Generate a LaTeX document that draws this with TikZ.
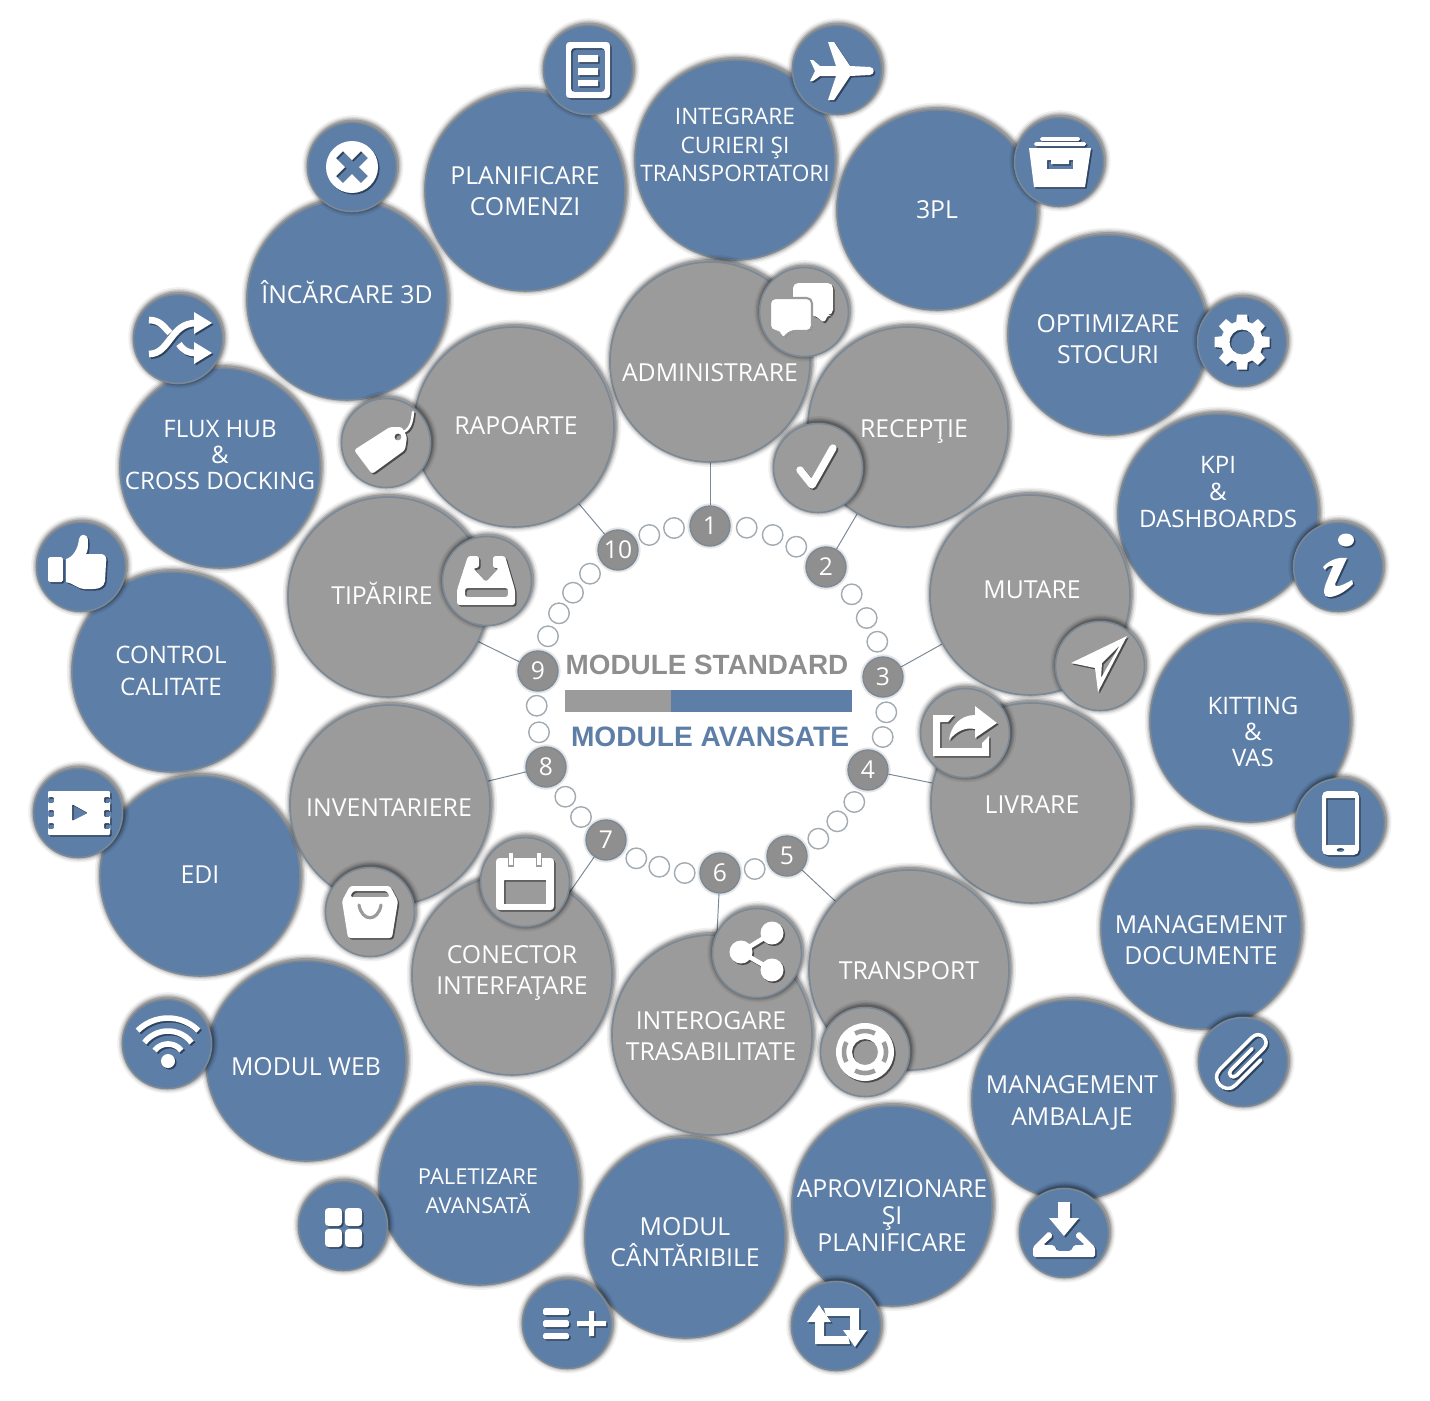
\documentclass[tikz,border=0pt]{standalone}
\usepackage{fontspec}
\setmainfont{Open Sans}
\newfontfamily\arialf{Liberation Sans}
\usetikzlibrary{backgrounds}
\definecolor{bluec}{HTML}{5D7EA7}
\definecolor{grayc}{HTML}{9B9B9B}
\definecolor{blues}{HTML}{2E435E}
\definecolor{grays}{HTML}{4A4A4A}
\definecolor{edgec}{HTML}{7B8896}
\definecolor{numc}{HTML}{8F8F8F}
\definecolor{ringc}{HTML}{A3ABB2}
\definecolor{titleg}{HTML}{8E8E8E}
\colorlet{ic}{white}
\colorlet{bgc}{bluec}
\tikzset{
  softshadow/.style={
    preaction={draw=black,draw opacity=.06,line width=7pt,fill=none,transform canvas={shift={(.5pt,.7pt)}}},
    preaction={draw=black,draw opacity=.09,line width=5pt,fill=none,transform canvas={shift={(.5pt,.7pt)}}},
    preaction={draw=black,draw opacity=.13,line width=3.5pt,fill=none,transform canvas={shift={(.5pt,.7pt)}}},
    preaction={draw=black,draw opacity=.18,line width=2pt,fill=none,transform canvas={shift={(.5pt,.7pt)}}},
  },
  bignode/.style={circle,draw=edgec,line width=.9pt,minimum size=4.0cm,inner sep=0pt,softshadow},
  iconnode/.style={circle,draw=edgec,line width=.9pt,minimum size=1.78cm,inner sep=0pt,softshadow},
  numnode/.style={circle,draw=edgec,line width=.8pt,fill=numc,minimum size=.8cm,inner sep=0pt,text=white,font=\fontsize{14}{16}\selectfont,
    preaction={draw=black,draw opacity=.10,line width=3pt,fill=none}},
  dotnode/.style={circle,draw=ringc,line width=.8pt,fill=white,minimum size=.41cm,inner sep=0pt},
  link/.style={draw=edgec,line width=.55pt},
  icstroke/.style={draw=ic,fill=none,line cap=round,line join=round},
}
\def\bsize{14.1}
% id, colour, x, y, text x, text y, leading, text
\newcommand\bigc[8]{%
  \node[bignode,fill=#2c] (#1) at (#3,#4) {};
  \node[text=white,align=center,inner sep=0pt,font=\fontsize{\bsize}{#7}\selectfont] (#1t) at (#5,#6) {#8};
}
% id, colour, x, y, paths
\newcommand\iconc[5]{%
  \node[iconnode,fill=#2c] (#1) at (#3,#4) {};
  \begin{scope}[shift={(#3+1.6,#4+1.6)}]\colorlet{ic}{#2s}\colorlet{bgc}{#2c}#5\end{scope}
  \begin{scope}[shift={(#3,#4)}]\colorlet{ic}{white}\colorlet{bgc}{#2c}#5\end{scope}
}
\begin{document}
\begin{tikzpicture}[x=0.02cm,y=-0.02cm]
\useasboundingbox (0,0) rectangle (1430,1400);
\begin{pgfonlayer}{background}
  \fill[white] (0,0) rectangle (1430,1400);
\end{pgfonlayer}

% big blue modules
\bigc{planif}{blue}{525}{191}{525}{191}{18}{PLANIFICARE\\COMENZI}
\def\bsize{12.9}
\bigc{integ}{blue}{735}{160}{735}{145}{16.4}{INTEGRARE\\CURIERI ŞI\\TRANSPORTATORI}
\def\bsize{14.1}
\bigc{tpl}{blue}{937}{210}{937}{210}{18}{3PL}
\bigc{optim}{blue}{1108}{335}{1108}{339}{18}{OPTIMIZARE\\STOCURI}
\def\bsize{13.7}
\bigc{kpi}{blue}{1218}{514}{1218}{492}{15.2}{KPI\\\&\\DASHBOARDS}
\bigc{kit}{blue}{1250}{722}{1253}{732}{15}{KITTING\\\&\\VAS}
\def\bsize{14.1}
\bigc{mdoc}{blue}{1201}{929}{1201}{940}{18}{MANAGEMENT\\DOCUMENTE}
\bigc{mamb}{blue}{1072}{1100}{1072}{1103}{18}{MANAGEMENT\\AMBALAJE}
\bigc{aprov}{blue}{892}{1206}{892}{1216}{15.3}{APROVIZIONARE\\ŞI\\PLANIFICARE}
\bigc{cant}{blue}{685}{1238}{685}{1242}{18}{MODUL\\CÂNTĂRIBILE}
\node[bignode,fill=bluec] (palet) at (479,1185) {};
\node[text=white,align=center,inner sep=0pt,font=\fontsize{12.5}{16.5}\selectfont] (palett) at (478,1191) {PALETIZARE\\AVANSATĂ};
\bigc{web}{blue}{306}{1061}{306}{1067}{18}{MODUL WEB}
\bigc{edi}{blue}{200}{876}{200}{875}{18}{EDI}
\def\bsize{13.7}
\bigc{ctrl}{blue}{172}{672}{171}{671}{18}{CONTROL\\CALITATE}
\bigc{flux}{blue}{220}{468}{220}{455}{15}{FLUX HUB\\\&\\CROSS DOCKING}
\def\bsize{14.1}
\bigc{incarc}{blue}{347}{300}{347}{292}{18}{ÎNCĂRCARE 3D}

% big gray modules
\bigc{adm}{gray}{710}{362}{710}{373}{18}{ADMINISTRARE}
\bigc{rec}{gray}{908}{427}{914}{431}{18}{RECEPŢIE}
\bigc{mut}{gray}{1030}{595}{1032}{590}{18}{MUTARE}
\bigc{liv}{gray}{1031}{803}{1032}{805}{18}{LIVRARE}
\bigc{trans}{gray}{909}{970}{909}{971}{18}{TRANSPORT}
\bigc{inter}{gray}{712}{1035}{711}{1036}{18}{INTEROGARE\\TRASABILITATE}
\bigc{conec}{gray}{512}{975}{512}{973}{18}{CONECTOR\\INTERFAŢARE}
\bigc{inv}{gray}{390}{805}{389}{808}{18}{INVENTARIERE}
\bigc{tip}{gray}{388}{597}{382}{593}{18}{TIPĂRIRE}
\bigc{rap}{gray}{514}{427}{516}{426}{18}{RAPOARTE}

% ring of small circles
\foreach \px/\py [count=\i] in {746.7/527.7,772.7/535,796.3/546.7,851.7/594.3,866.7/618,877.3/641.7,886.3/712.3,882.7/737,854.3/802,837.3/821.3,818.3/838.7,754.7/869,684.7/873,659.3/866.7,636.3/858.3,581/817,565.3/796.7,539/732.3,536.7/705.7,548/636.3,559/613.3,573/592.7,590/573.7,649.3/535,674/528}{
  \node[dotnode] (dot\i) at (\px,\py) {};
}
% numbered circles
\node[numnode] (n1) at (710,526) {1};
\node[numnode] (n2) at (826,567) {2};
\node[numnode] (n3) at (883,677) {3};
\node[numnode] (n4) at (868,770) {4};
\node[numnode] (n5) at (787,856) {5};
\node[numnode] (n6) at (720,873) {6};
\node[numnode] (n7) at (606,840) {7};
\node[numnode] (n8) at (546,767) {8};
\node[numnode] (n9) at (538,671) {9};
\node[numnode] (n10) at (618,550) {10};
\begin{pgfonlayer}{background}
  \draw[link] (n1) -- (adm);
  \draw[link] (n2) -- (rec);
  \draw[link] (n3) -- (mut);
  \draw[link] (n4) -- (liv);
  \draw[link] (n5) -- (trans);
  \draw[link] (n6) -- (inter);
  \draw[link] (n7) -- (conec);
  \draw[link] (n8) -- (inv);
  \draw[link] (n9) -- (tip);
  \draw[link] (n10) -- (rap);
\end{pgfonlayer}

% central legend
\node[text=titleg,inner sep=0pt,font=\arialf\bfseries\fontsize{15.85}{18}\selectfont] (stdt) at (707,665) {MODULE STANDARD};
\node[text=bluec,inner sep=0pt,font=\arialf\bfseries\fontsize{16}{18}\selectfont] (avt) at (710,737) {MODULE AVANSATE};
\node[fill=grayc,inner sep=0pt,minimum width=2.12cm,minimum height=.43cm,anchor=west] (barg) at (564.7,701) {};
\node[fill=bluec,inner sep=0pt,minimum width=3.624cm,minimum height=.43cm,anchor=west] (barb) at (670.7,701) {};

% icons on blue modules
\iconc{idoc}{blue}{588}{70}{
  \fill[ic,even odd rule,rounded corners=2pt] (-22,-28) rectangle (22,28) (-17,-22) rectangle (17,22);
  \fill[ic] (-10,-15) rectangle (10,-8) (-10,-2) rectangle (10,5) (-10,10) rectangle (10,16);
}
\iconc{iplane}{blue}{837}{70}{
  \fill[ic] (33,-3) -- (13,-4) -- (-3,-28) -- (-9,-28) -- (-1,-4) -- (-17,-4) -- (-24,-10) -- (-27,-10) -- (-22,1) -- (-27,11) -- (-24,11) -- (-17,6) -- (-1,6) -- (-9,30) -- (-3,30) -- (13,6) -- (33,5) .. controls (38,4) and (38,-2) .. (33,-3) -- cycle;
}
\iconc{ibox}{blue}{1059}{162}{
  \fill[ic,even odd rule] (-30,-14) -- (32,-14) -- (26,25) -- (-25,25) -- cycle
     (-12,-2) -- (-12,7) -- (14,7) -- (14,-2) -- (10,-2) -- (10,2) -- (-8,2) -- (-8,-2) -- cycle;
  \fill[ic,rounded corners=1pt] (-19,-25) rectangle (21,-21) (-25,-20) rectangle (27,-16);
}
\iconc{igear}{blue}{1242}{342}{
  \fill[ic,even odd rule] (0,0) circle[radius=21] (0,0) circle[radius=12.5];
  \foreach \a in {0,45,...,315}{\fill[ic,rotate=\a] (18,-6) -- (27.5,-5) -- (27.5,5) -- (18,6) -- cycle;}
}
\iconc{iinfo}{blue}{1338}{567}{
  \fill[ic] (8,-27) circle[x radius=8,y radius=6.5];
  \fill[ic] (-15,0) .. controls (-8,-8) and (2,-10) .. (9,-9) -- (-3,17) .. controls (-3,20) and (0,21) .. (14,13) -- (15,17) .. controls (6,26) and (-3,30) .. (-9,30) .. controls (-15,30) and (-15,24) .. (-12,16) -- (-5,-1) .. controls (-8,-2) and (-11,0) .. (-13,3) -- cycle;
}
\iconc{iphone}{blue}{1340}{823}{
  \fill[ic,even odd rule] [rounded corners=3pt] (-18,-32) rectangle (19,32)  [rounded corners=0pt] (-14,-25) rectangle (15,22) (0.5,27) circle[x radius=4,y radius=2];
}
\iconc{iclip}{blue}{1243}{1062}{
  \draw[icstroke,line width=2pt,rotate=-45] (11,-14) -- (11,22) .. controls (11,36) and (-11,36) .. (-11,22) -- (-11,-24) .. controls (-11,-35) and (5,-35) .. (5,-24) -- (5,14) .. controls (5,20) and (-3,20) .. (-3,14) -- (-3,-16);
}
\iconc{itray}{blue}{1064}{1233}{
  \fill[ic] (-6,-31) -- (6,-31) -- (6,-15) -- (15,-15) -- (0,3) -- (-15,-15) -- (-6,-15) -- cycle;
  \fill[ic,rounded corners=1pt] (-15,-2) -- (-31,14) -- (-31,24) -- (31,24) -- (31,14) -- (15,-2) -- (11,3) -- (21,12) -- (10,12) -- (7,18) -- (-7,18) -- (-10,12) -- (-21,12) -- (-11,3) -- cycle;
}
\iconc{iretw}{blue}{836}{1326}{
  \fill[ic] (-17,-21) -- (-5,-4) -- (-12,-4) -- (-12,10) -- (12,10) -- (14,18) -- (-21,18) -- (-21,-4) -- (-29,-4) -- cycle;
  \fill[ic] (19,21) -- (7,4) -- (14,4) -- (14,-10) -- (-10,-10) -- (-12,-18) -- (23,-18) -- (23,4) -- (31,4) -- cycle;
}
\iconc{ilist}{blue}{567}{1324}{
  \fill[ic,rounded corners=1pt] (-24,-16) rectangle (2,-9) (-24,-4) rectangle (2,3) (-24,9) rectangle (2,15);
  \fill[ic] (22,-13) rectangle (27,12) (10,-3) rectangle (39,2);
}
\iconc{igrid}{blue}{343}{1226}{
  \fill[ic,rounded corners=2pt] (-18,-18) rectangle (-1,0);
  \fill[ic,rounded corners=2pt] (2,-18) rectangle (19,0);
  \fill[ic,rounded corners=2pt] (-18,3) rectangle (-1,21);
  \fill[ic,rounded corners=2pt] (2,3) rectangle (19,21);
}
\iconc{iwifi}{blue}{167}{1044}{
  \fill[ic] (1,17) circle[radius=7];
  \foreach \rr/\dd in {17/52,30/52,43/45}{
    \draw[icstroke,line width=3.2pt,line cap=butt] plot[domain=-\dd:\dd,samples=14] ({1+\rr*sin(\x)},{17-\rr*cos(\x)});
  }
}
\iconc{ivideo}{blue}{78}{813}{
  \fill[ic,even odd rule,rounded corners=.6pt] (-30,-22) rectangle (32,22)
    (-30,-16) rectangle (-24,-10) (-30,-3) rectangle (-24,4) (-30,10) rectangle (-24,16)
    (26,-16) rectangle (32,-10) (26,-3) rectangle (32,4) (26,10) rectangle (32,16)
    (-6,-9) -- (10,0) -- (-6,8) -- cycle;
}
\iconc{ithumb}{blue}{81}{567}{
  \fill[ic,rounded corners=1pt] (-33,-10) rectangle (-18,15);
  \fill[ic] (-15,-8) .. controls (-8,-10) and (-3,-18) .. (-2,-28) .. controls (-1,-34) and (7,-34) .. (7,-26) .. controls (7,-20) and (7,-16) .. (5,-13) -- (20,-13) .. controls (25,-13) and (26,-8) .. (25,-4) -- (24,14) .. controls (23,20) and (18,22) .. (12,22) -- (3,22) .. controls (-3,22) and (-8,16) .. (-15,15) -- cycle;
}
\iconc{ishuf}{blue}{178}{339}{
  \draw[ic,line width=3.8pt] (-29,15) .. controls (-8,15) and (-8,-16) .. (18,-16);
  \draw[ic,line width=3.8pt] (-29,-19) .. controls (-18,-19) and (-14,-12) .. (-8,-6);
  \draw[ic,line width=3.8pt] (1,5) .. controls (6,12) and (10,14) .. (18,14);
  \fill[ic] (16,-27) -- (34,-16) -- (16,-5) -- cycle;
  \fill[ic] (16,3) -- (34,14) -- (16,25) -- cycle;
}
\iconc{ix}{blue}{352}{167}{
  \fill[ic,even odd rule] (0,0) circle[radius=26]
    (0,-7) -- (9,-16) -- (16,-9) -- (7,0) -- (16,9) -- (9,16) -- (0,7) -- (-9,16) -- (-16,9) -- (-7,0) -- (-16,-9) -- (-9,-16) -- cycle;
}

% icons on gray modules
\iconc{ichat}{gray}{804}{312}{
  \fill[ic,rounded corners=3pt] (-11,-29) -- (29,-29) -- (29,3) -- (22,3) -- (21,12) -- (11,3) -- (-11,3) -- cycle;
  \filldraw[draw=bgc,fill=ic,line width=1.2pt,rounded corners=3pt] (-34,-14) -- (8,-14) -- (8,19) -- (-14,19) -- (-22,28) -- (-24,19) -- (-34,19) -- cycle;
}
\iconc{icheck}{gray}{818}{468}{
  \draw[icstroke,line width=4.2pt] (-18,2) -- (-6,17) -- (15,-20);
}
\iconc{isend}{gray}{1100}{666}{
  \fill[ic,even odd rule] (27,-30) -- (-29,-3) -- (-5,2) -- (-2,26) -- cycle (20,-21) -- (2,-3) -- (1,12) -- cycle;
}
\iconc{ishout}{gray}{965}{733}{
  \fill[ic] (-32,-18) -- (-11,-18) -- (-17,-11) -- (-25,-11) -- (-25,15) -- (17,15) -- (17,10) -- (24,3) -- (24,23) -- (-32,23) -- cycle;
  \fill[ic] (-16,7) .. controls (-14,-8) and (-4,-18) .. (10,-18) -- (10,-27) -- (32,-10) -- (10,5) -- (10,-4) .. controls (0,-6) and (-8,-2) .. (-16,7) -- cycle;
}
\iconc{ishare}{gray}{757}{953}{
  \draw[ic,line width=2.6pt] (15,-20) -- (-16,-1) -- (15,17);
  \fill[ic] (15,-20) circle[radius=11.5] (-16,-1) circle[radius=11.5] (15,17) circle[radius=11.5];
}
\iconc{ibuoy}{gray}{865}{1052}{
  \fill[ic,even odd rule] (0,0) circle[radius=29] (0,0) circle[radius=13];
  \foreach \a in {0,90,180,270}{
    \draw[draw=bgc,line width=2.6pt,rotate=\a] plot[domain=-28:28,samples=10] ({21*cos(\x)},{21*sin(\x)});
  }
}
\iconc{ical}{gray}{525}{882}{
  \fill[ic,even odd rule,rounded corners=2pt] (-29,-24) rectangle (29,28) [rounded corners=0pt] (-21,-2) rectangle (21,22);
  \filldraw[draw=bgc,fill=ic,line width=.8pt] (-16.5,-30) rectangle (-11.5,-16);
  \filldraw[draw=bgc,fill=ic,line width=.8pt] (11.5,-30) rectangle (16.5,-16);
}
\iconc{ibag}{gray}{370}{912}{
  \fill[ic,even odd rule,rounded corners=1.5pt] (-20,-26) -- (20,-26) -- (28,-11) -- (22,26) -- (-22,26) -- (-28,-11) -- cycle (-17,-21) -- (17,-21) -- (20,-15) -- (-20,-15) -- cycle;
  \draw[draw=bgc,line width=1.8pt,line cap=round] (-11,-7) .. controls (-8,10) and (8,10) .. (11,-7);
}
\iconc{idown}{gray}{487}{581}{
  \fill[ic,even odd rule,rounded corners=1.5pt] (-19,-25) -- (-8,-25) -- (-8,-13) -- (-14,-13) -- (-1,1) -- (12,-13) -- (6,-13) -- (6,-25) -- (18,-25) -- (28,9) -- (28,24) -- (-30,24) -- (-30,9) -- cycle
     (-22,7) rectangle (21,16);
}
\iconc{itag}{gray}{386}{443}{
  \fill[ic,even odd rule,rounded corners=1.5pt] (-32,7) -- (4,-16) -- (16,-16) -- (21,-6) -- (19,7) -- (-14,31) -- cycle (12,-6) circle[radius=3.5];
  \draw[icstroke,line width=1.4pt] (14,-10) .. controls (24,-12) and (26,-20) .. (27,-31);
}
\end{tikzpicture}
\end{document}
